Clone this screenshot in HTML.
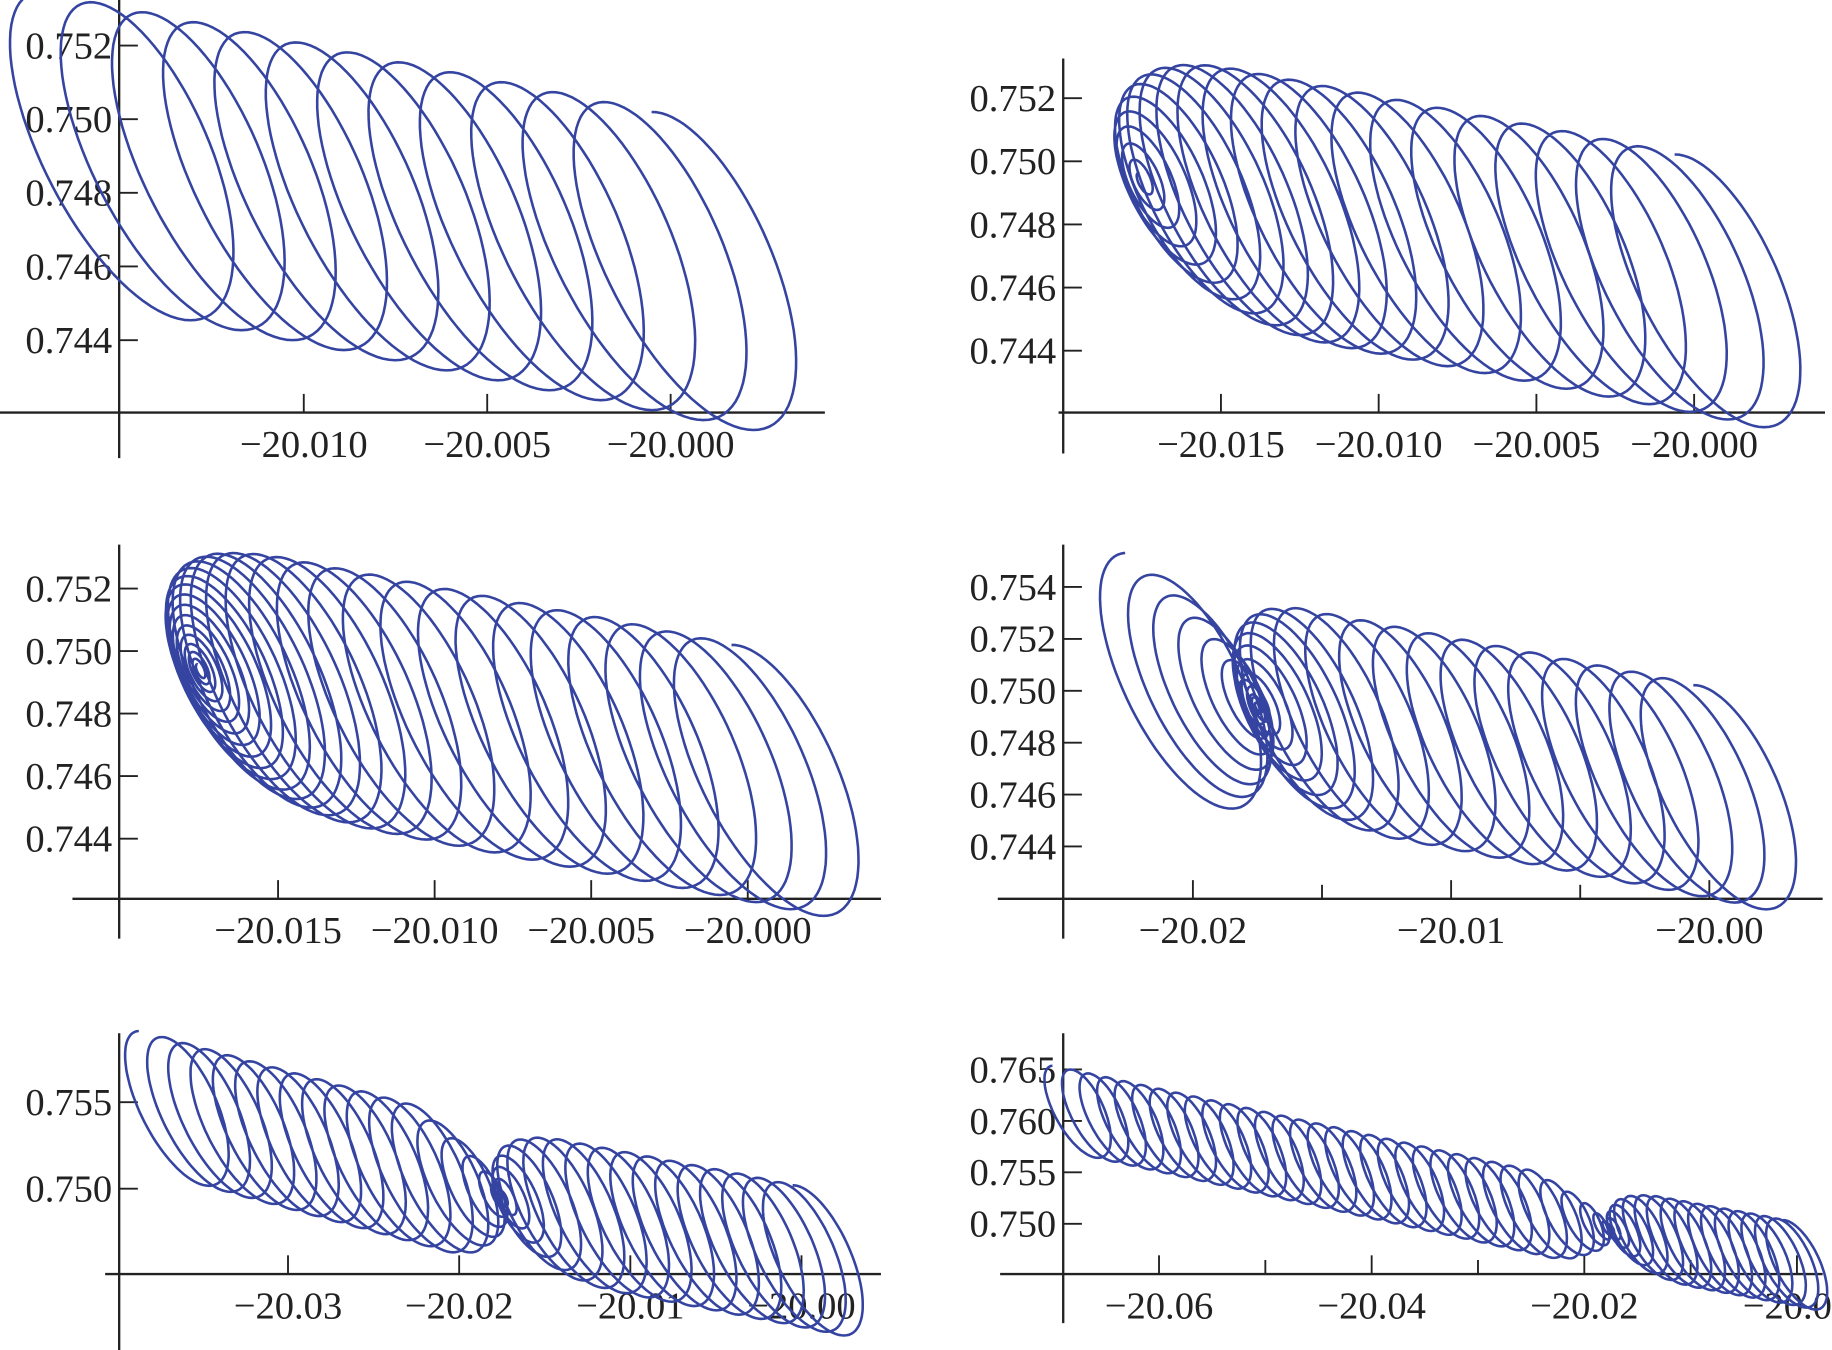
<!DOCTYPE html>
<html><head><meta charset="utf-8"><style>html,body{margin:0;padding:0;background:#fff}svg{display:block}</style></head>
<body>
<svg id="chart" width="1832" height="1350" viewBox="0 0 1568 1155" preserveAspectRatio="none" xmlns="http://www.w3.org/2000/svg"></svg>
<script>
// ---- shared loop shape (data units) ----
const shapeU = [0.0026, -0.0018];
const shapeV = [-0.0007, 0.0040];

// ---- panel 1 ----
const p1Cx = [-20.0155,-20.01412,-20.01272,-20.01133,-20.00993,-20.00853,-20.00713,-20.00573,-20.00433,-20.00293,-20.00153,-20.00013,-19.9988];
const p1Cy = [0.74906,0.74879,0.74852,0.74825,0.74798,0.7477,0.74743,0.74716,0.74689,0.74662,0.74635,0.74608,0.74581];
const p1Amp = [1,1,1,1,1,1,1,1,1,1,1,1,1];
const p1XTicks = [-20.010,-20.005,-20.000];
const p1YTicks = [0.744,0.746,0.748,0.750,0.752];

// ---- panel 2 ----
const p2Cx = [-20.0175,-20.01746,-20.01738,-20.01722,-20.01698,-20.01665,-20.01624,-20.01576,-20.0152,-20.01455,-20.01382,-20.01301,-20.01212,-20.01116,-20.0101,-20.00897,-20.00775,-20.00646,-20.00508,-20.00378,-20.0025,-20.0012,-20.0001,-19.9989];
const p2Cy = [0.7494,0.74939,0.74938,0.74935,0.7493,0.74924,0.74916,0.74907,0.74897,0.74884,0.7487,0.74855,0.74838,0.7482,0.7480,0.74779,0.74756,0.74731,0.74705,0.74681,0.74657,0.74632,0.74609,0.74583];
const p2Amp = [0.05,0.15,0.27,0.4,0.52,0.64,0.75,0.84,0.91,0.96,0.99,1,1,1,1,1,1,1,1,1,1,1,1,1];
const p2XTicks = [-20.015,-20.010,-20.005,-20.000];
const p2YTicks = [0.744,0.746,0.748,0.750,0.752];

// ---- panel 3 ----
const p3Cx = [-20.0175,-20.0175,-20.01748,-20.01745,-20.01739,-20.01733,-20.01724,-20.01713,-20.017,-20.01684,-20.01665,-20.01641,-20.01611,-20.01575,-20.01532,-20.01477,-20.01411,-20.01335,-20.01248,-20.01149,-20.0104,-20.0092,-20.008,-20.0068,-20.0056,-20.0044,-20.0032,-20.002,-20.0009,-19.9998,-19.9988];
const p3Cy = [0.7494,0.7494,0.7494,0.74939,0.74938,0.74937,0.74935,0.74933,0.74931,0.74928,0.74924,0.74919,0.74914,0.74907,0.74899,0.74888,0.74876,0.74862,0.74845,0.74826,0.74806,0.74783,0.7476,0.74738,0.74715,0.74692,0.7467,0.74647,0.74624,0.74602,0.74581];
const p3Amp = [0.04,0.08,0.13,0.19,0.26,0.33,0.41,0.49,0.57,0.65,0.72,0.79,0.85,0.9,0.94,0.97,0.99,1,1,1,1,1,1,1,1,1,1,1,1,1,1];
const p3XTicks = [-20.015,-20.010,-20.005,-20.000];
const p3YTicks = [0.744,0.746,0.748,0.750,0.752];

// ---- panel 4 ----
const p4Cx = [-20.02065,-20.01995,-20.01935,-20.01880,-20.01832,-20.01795,-20.01768,-20.01755,-20.0175,
  -20.01747,-20.01739,-20.01728,-20.01712,-20.0169,-20.01663,-20.0163,-20.01586,-20.01532,-20.01433,-20.01313,-20.01182,-20.01051,-20.0092,-20.00789,-20.00658,-20.00527,-20.00396,-20.00265,-20.00134,-20.00013,-19.9989];
const p4Cy = [0.75027,0.75008,0.7499,0.74974,0.74962,0.74951,0.74945,0.74941,0.7494,
  0.74939,0.74938,0.74936,0.74933,0.74929,0.74924,0.74917,0.74909,0.74899,0.7488,0.74857,0.74833,0.74808,0.74783,0.74758,0.74734,0.74709,0.74684,0.74659,0.74635,0.7461,0.74583];
const p4Amp = [1.15,1.0,0.86,0.7,0.54,0.38,0.22,0.1,0.03,
  0.08,0.18,0.3,0.43,0.56,0.68,0.79,0.88,0.95,1,1,1,1,1,1,1,1,1,1,1,1,1];
const p4XTicks = [-20.02,-20.01,-20.00];
const p4XMinor = [-20.015,-20.005];
const p4YTicks = [0.744,0.746,0.748,0.750,0.752,0.754];

// ---- panel 5 ----
const p5Cx = [-20.0370,-20.0357,-20.03448,-20.03318,-20.03187,-20.03057,-20.02927,-20.02796,-20.02666,-20.02535,-20.02405,-20.02274,-20.02144,-20.02034,-20.01936,-20.01859,-20.01804,-20.01772,-20.0175,
  -20.01739,-20.01717,-20.01684,-20.01641,-20.01575,-20.01488,-20.01379,-20.01259,-20.01128,-20.00997,-20.00865,-20.00734,-20.00603,-20.00472,-20.00341,-20.0021,-20.00089,-19.99968,-19.9988];
const p5Cy = [0.75473,0.75438,0.75403,0.75368,0.75333,0.75298,0.75263,0.75228,0.75194,0.75158,0.75124,0.75088,0.75054,0.75021,0.74993,0.74969,0.74954,0.74946,0.7494,
  0.74938,0.74934,0.74928,0.74919,0.74907,0.7489,0.7487,0.74847,0.74822,0.74798,0.74773,0.74748,0.74723,0.74698,0.74674,0.74649,0.74624,0.74599,0.74581];
const p5Amp = [1,1,1,1,1,1,1,1,1,1,1,1,1,0.85,0.68,0.5,0.33,0.18,0.06,
  0.12,0.28,0.45,0.62,0.78,0.9,0.97,1,1,1,1,1,1,1,1,1,1,1,1];
const p5XTicks = [-20.03,-20.02,-20.01,-20.00];
const p5YTicks = [0.750,0.755];

// ---- panel 6 ----
const p6Cx = [-20.0683,-20.06665,-20.065,-20.06335,-20.0617,-20.06005,-20.0584,-20.05675,-20.0551,-20.05345,-20.0518,-20.05015,-20.0485,-20.04685,-20.0452,-20.04355,-20.0419,-20.04025,-20.0386,-20.03695,-20.0353,-20.03365,-20.032,-20.03035,-20.0287,-20.02705,-20.0254,-20.02375,-20.0221,-20.02055,-20.0192,-20.0184,-20.0179,-20.0176,
  -20.0174,-20.0171,-20.0167,-20.016,-20.0152,-20.0141,-20.0128,-20.0116,-20.0103,-20.009,-20.0077,-20.0065,-20.0052,-20.0039,-20.0027,-20.0014,-20.0003,-19.9996];
const p6Cy = [0.76098,0.76061,0.76023,0.75986,0.75948,0.75911,0.75874,0.75836,0.75799,0.75761,0.75724,0.75687,0.75649,0.75612,0.75574,0.75537,0.755,0.75462,0.75425,0.75387,0.7535,0.75313,0.75275,0.75238,0.752,0.75163,0.75126,0.75088,0.75051,0.75013,0.7498,0.74961,0.74949,0.74942,
  0.74938,0.74932,0.74925,0.74912,0.74897,0.74876,0.74852,0.74829,0.74805,0.7478,0.74755,0.74733,0.74708,0.74684,0.74661,0.74636,0.74612,0.74597];
const p6Amp = [1,1,1,1,1,1,1,1,1,1,1,1,1,1,1,1,1,1,1,1,1,1,1,1,1,1,1,1,0.85,0.68,0.5,0.32,0.17,0.06,
  0.12,0.28,0.45,0.62,0.78,0.9,0.97,1,1,1,1,1,1,1,1,1,1,1];
const p6XTicks = [-20.06,-20.04,-20.02,-20.00];
const p6XMinor = [-20.05,-20.03,-20.01];
const p6YTicks = [0.750,0.755,0.760,0.765];

const NS = "http://www.w3.org/2000/svg";
const svg = document.getElementById('chart');
const COLOR = "#3444a0";

const panels = [
  {cx:p1Cx,cy:p1Cy,amp:p1Amp,xt:p1XTicks,xm:[],yt:p1YTicks,xd:3,
   x0:574,kx:31400,y0:102,ky:31500,ax:102,ay:353,ayTop:0,ayBot:392,axL:0,axR:706},
  {cx:p2Cx,cy:p2Cy,amp:p2Amp,xt:p2XTicks,xm:[],yt:p2YTicks,xd:3,
   x0:1450,kx:27000,y0:138,ky:27000,ax:910,ay:353,ayTop:50,ayBot:388,axL:906,axR:1562},
  {cx:p3Cx,cy:p3Cy,amp:p3Amp,xt:p3XTicks,xm:[],yt:p3YTicks,xd:3,
   x0:640,kx:26800,y0:557,ky:26750,ax:102,ay:769,ayTop:466,ayBot:803,axL:62,axR:754},
  {cx:p4Cx,cy:p4Cy,amp:p4Amp,xt:p4XTicks,xm:p4XMinor,yt:p4YTicks,xd:2,
   x0:1463,kx:22100,y0:591,ky:22200,ax:910,ay:769,ayTop:466,ayBot:803,axL:854,axR:1560},
  {cx:p5Cx,cy:p5Cy,amp:p5Amp,xt:p5XTicks,xm:[],yt:p5YTicks,xd:2,
   x0:686,kx:14650,y0:1017,ky:14800,ax:102,ay:1090,ayTop:884,ayBot:1155,axL:90,axR:754},
  {cx:p6Cx,cy:p6Cy,amp:p6Amp,xt:p6XTicks,xm:p6XMinor,yt:p6YTicks,xd:2,
   x0:1538,kx:9100,y0:1047,ky:8800,ax:910,ay:1090,ayTop:884,ayBot:1132,axL:856,axR:1560}
];

function mk(tag, attrs, parent){
  const e = document.createElementNS(NS, tag);
  for (const k in attrs) e.setAttribute(k, attrs[k]);
  parent.appendChild(e);
  return e;
}
function fmt(v, d){ const s = Math.abs(v).toFixed(d); return (v < 0 ? "\u2212" : "") + s; }

panels.forEach((p, idx) => {
  const sx = x => p.x0 + (x + 20) * p.kx;
  const sy = y => p.y0 - (y - 0.75) * p.ky;
  const g = mk('g', {}, svg);
  
  

  const xa = mk('line', {x1:p.axL, y1:p.ay, x2:p.axR, y2:p.ay, stroke:'#222', 'stroke-width':2}, g);
  
  
  const ya = mk('line', {x1:p.ax, y1:p.ayTop, x2:p.ax, y2:p.ayBot, stroke:'#222', 'stroke-width':2}, g);
  
  

  p.xt.forEach(v => {
    const x = sx(v);
    const t = mk('line', {x1:x, y1:p.ay, x2:x, y2:p.ay - 16, stroke:'#222', 'stroke-width':1.6}, g);
    
    
    const l = mk('text', {x:x, y:p.ay + 38, 'text-anchor':'middle', 'font-family':'"Liberation Serif", serif', 'font-size':33, fill:'#222'}, g);
    
    
    l.textContent = fmt(v, p.xd);
  });
  p.xm.forEach(v => {
    const x = sx(v);
    const t = mk('line', {x1:x, y1:p.ay, x2:x, y2:p.ay - 12, stroke:'#222', 'stroke-width':1.6}, g);
    
    
  });
  p.yt.forEach(v => {
    const y = sy(v);
    const t = mk('line', {x1:p.ax, y1:y, x2:p.ax + 16, y2:y, stroke:'#222', 'stroke-width':1.6}, g);
    
    
    const l = mk('text', {x:p.ax - 6, y:y + 11, 'text-anchor':'end', 'font-family':'"Liberation Serif", serif', 'font-size':33, fill:'#222'}, g);
    
    
    l.textContent = v.toFixed(3);
  });

  const N = p.cx.length;
  const th0 = 2.0 - 2 * Math.PI * (N - 1);
  let d = '';
  const steps = 90;
  for (let s = 0; s <= (N - 1) * steps; s++) {
    const t = s / steps;
    const i = Math.min(Math.floor(t), N - 2);
    const f = t - i;
    const cxv = p.cx[i] + (p.cx[i + 1] - p.cx[i]) * f;
    const cyv = p.cy[i] + (p.cy[i + 1] - p.cy[i]) * f;
    const a = p.amp[i] + (p.amp[i + 1] - p.amp[i]) * f;
    const th = th0 + 2 * Math.PI * t;
    const x = cxv + a * (shapeU[0] * Math.cos(th) + shapeV[0] * Math.sin(th));
    const y = cyv + a * (shapeU[1] * Math.cos(th) + shapeV[1] * Math.sin(th));
    d += (s === 0 ? 'M' : 'L') + sx(x).toFixed(1) + ' ' + sy(y).toFixed(1);
  }
  const path = mk('path', {d:d, fill:'none', stroke:COLOR, 'stroke-width':2.2, 'stroke-linejoin':'round'}, g);
  
  
});
</script>
</body></html>
